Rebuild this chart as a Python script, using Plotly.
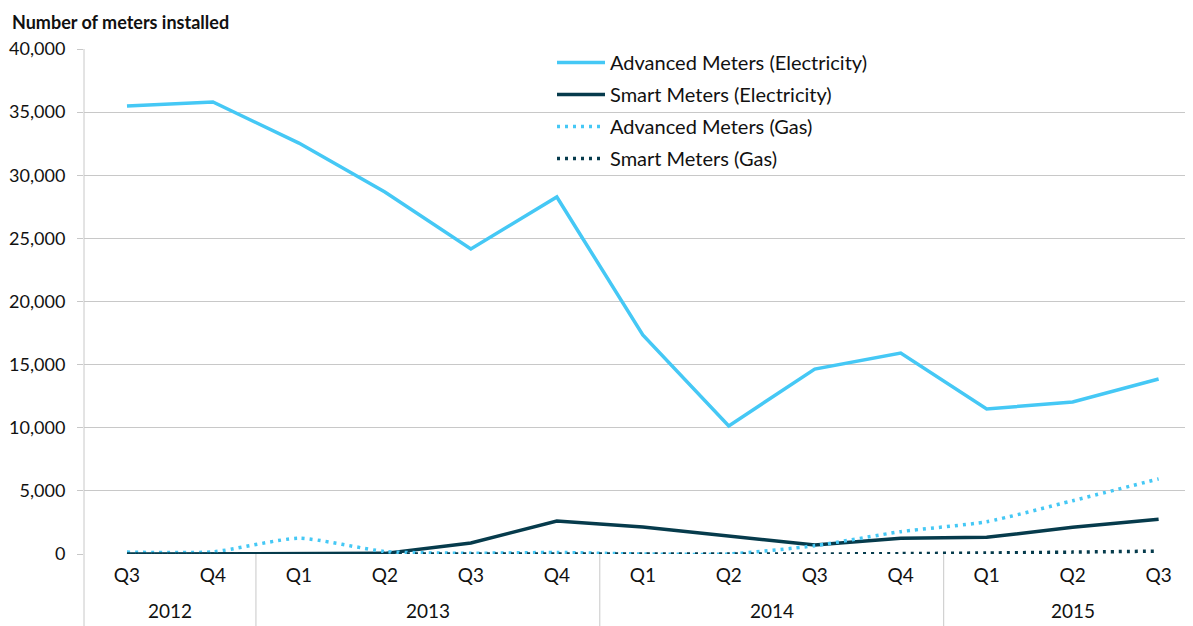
import plotly.graph_objects as go

quarters = ["Q3", "Q4", "Q1", "Q2", "Q3", "Q4", "Q1", "Q2", "Q3", "Q4", "Q1", "Q2", "Q3"]
years = ["2012", "2013", "2014", "2015"]
year_centers = [0.5, 3.5, 7.5, 11.0]
year_dividers = [1.5, 5.5, 9.5]

adv_elec = [35480, 35800, 32550, 28670, 24160, 28280, 17350, 10140, 14650, 15920, 11490, 12040, 13860]
smart_elec = [0, 0, 0, 50, 870, 2610, 2140, 1400, 710, 1240, 1320, 2110, 2750]
adv_gas = [150, 170, 1250, 200, 60, 120, 0, 0, 660, 1770, 2560, 4220, 5950]
smart_gas = [0, 0, 0, 0, 0, 0, 0, 0, 0, 30, 80, 150, 230]

yticks = [0, 5000, 10000, 15000, 20000, 25000, 30000, 35000, 40000]

LIGHT = "#45C8F5"
DARK = "#063B4C"
FONT = "Lato"
TXT = "#111111"
FS = 20
TFS = 19

# page has an 8px body margin; design the figure so that the plot area lands at
# x 84..1193, y 49..554 in the window
OFF = 8
W = 1193 - OFF
H = 626 - OFF
top, bottom, left = 49 - OFF, 72, 84 - OFF
plot_h = H - top - bottom
plot_w = W - left

x = list(range(len(quarters)))
fig = go.Figure()
fig.add_trace(go.Scatter(x=x, y=adv_elec, mode="lines", name="Advanced Meters (Electricity)",
                         line=dict(color=LIGHT, width=3.5), legendgroup="a"))
fig.add_trace(go.Scatter(x=x, y=smart_elec, mode="lines", name="Smart Meters (Electricity)",
                         line=dict(color=DARK, width=3.5), legendgroup="b"))
fig.add_trace(go.Scatter(x=x, y=adv_gas, mode="lines", name="Advanced Meters (Gas)",
                         line=dict(color=LIGHT, width=3.5, dash="3px,5px", shape="spline", smoothing=0.6),
                         legendgroup="c"))
fig.add_trace(go.Scatter(x=x, y=smart_gas, mode="lines", name="Smart Meters (Gas)",
                         line=dict(color=DARK, width=3.5, dash="3px,5px", shape="spline", smoothing=0.6),
                         legendgroup="d"))

fig.update_layout(
    width=W, height=H,
    margin=dict(l=left, r=0, t=top, b=bottom),
    paper_bgcolor="white", plot_bgcolor="white",
    font=dict(family=FONT, size=FS, color=TXT),
    showlegend=True,
    legend=dict(x=(552 - 84) / plot_w, y=1.0 + 6 / plot_h, xanchor="left", yanchor="top",
                bgcolor="rgba(0,0,0,0)",
                font=dict(family=FONT, size=FS, color=TXT), traceorder="grouped",
                tracegroupgap=3, itemwidth=48),
    xaxis=dict(range=[-0.5, 12.4], tickmode="array", tickvals=x, ticktext=quarters,
               showgrid=False, zeroline=False, showline=False, ticks="",
               ticklabelstandoff=8,
               tickfont=dict(family=FONT, size=TFS, color=TXT)),
    yaxis=dict(range=[0, 40000], tickmode="array", tickvals=yticks,
               ticktext=[f"{v:,}" for v in yticks], showgrid=True, gridcolor="#c8c8c8",
               gridwidth=1, zeroline=False, showline=False, ticks="outside", ticklen=6,
               ticklabelstandoff=8,
               tickcolor="#c8c8c8", tickfont=dict(family=FONT, size=18, color=TXT)),
)

ext = (H - top) / plot_h - 1.0  # extend to bottom of figure
fig.add_shape(type="line", xref="paper", yref="paper", x0=0, x1=0, y0=1, y1=-ext,
              line=dict(color="#c8c8c8", width=1))
for d in year_dividers:
    fig.add_shape(type="line", xref="x", yref="paper", x0=d, x1=d, y0=0, y1=-ext,
                  line=dict(color="#c8c8c8", width=1))
for yv, c in zip(years, year_centers):
    fig.add_annotation(x=c, xref="x", y=-(610 - 554) / plot_h, yref="paper",
                       text=yv, showarrow=False, yanchor="middle",
                       font=dict(family=FONT, size=TFS, color=TXT))
fig.add_annotation(x=(10 - 84) / plot_w, xref="paper", y=1 + (49 - 22) / plot_h, yref="paper",
                   text="<b>Number of meters installed</b>", showarrow=False,
                   xanchor="left", yanchor="middle",
                   font=dict(family=FONT, size=18, color="#111111"))

fig.write_html("out.html")
